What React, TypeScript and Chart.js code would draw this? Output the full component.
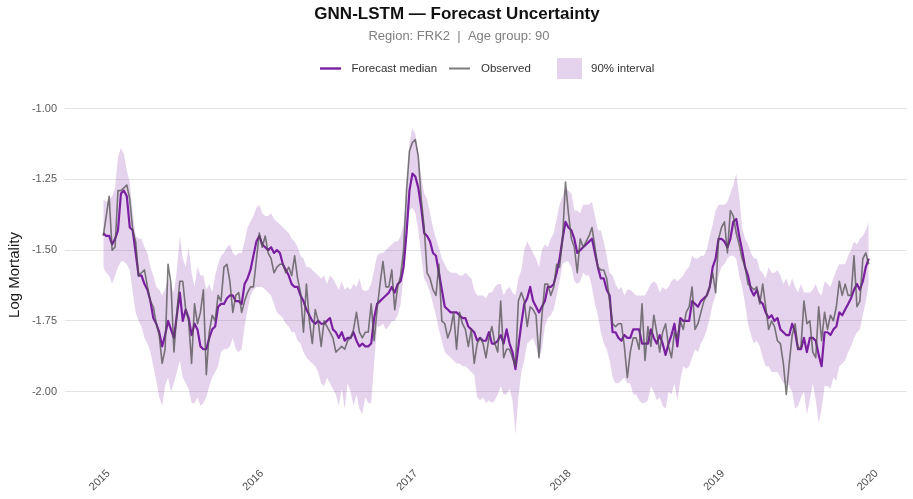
import { useEffect, useRef } from 'react';
import { Chart, registerables } from 'chart.js';

Chart.register(...registerables);

// ---- data -------------------------------------------------------------
const FIRST_WEEK = '2014-12-22';
const yearTicks = [2015, 2016, 2017, 2018, 2019, 2020];
const logTicks = [-2.0, -1.75, -1.5, -1.25, -1.0];

const observed = [
  -1.45, -1.38, -1.31, -1.50, -1.49, -1.29, -1.29, -1.28, -1.27, -1.32,
  -1.43, -1.47, -1.59, -1.58, -1.57, -1.63, -1.68, -1.70, -1.76, -1.80,
  -1.90, -1.85, -1.55, -1.62, -1.86, -1.72, -1.61, -1.61, -1.71, -1.75,
  -1.90, -1.69, -1.76, -1.72, -1.64, -1.94, -1.79, -1.73, -1.75, -1.66,
  -1.68, -1.56, -1.55, -1.61,
  -1.72, -1.66, -1.65, -1.72, -1.68, -1.65, -1.63, -1.63, -1.535, -1.44,
  -1.49, -1.45, -1.51, -1.53, -1.58, -1.56, -1.55, -1.55, -1.58, -1.56,
  -1.59, -1.52, -1.60, -1.65, -1.79, -1.62, -1.75, -1.83, -1.71, -1.75,
  -1.84, -1.75, -1.77, -1.79, -1.81, -1.86, -1.85, -1.84, -1.85, -1.82,
  -1.81, -1.78, -1.72, -1.79, -1.81,
  -1.79, -1.79, -1.69, -1.82, -1.71, -1.62, -1.54, -1.63, -1.63, -1.57,
  -1.71, -1.63, -1.59, -1.50, -1.29, -1.15, -1.12, -1.11, -1.17, -1.32,
  -1.42, -1.58, -1.60, -1.64, -1.66, -1.55, -1.75, -1.76, -1.81, -1.78,
  -1.72, -1.85, -1.72, -1.76, -1.78, -1.84, -1.78, -1.90, -1.83, -1.81,
  -1.83, -1.88, -1.81, -1.77, -1.83, -1.86,
  -1.68, -1.88, -1.85, -1.85, -1.88, -1.91, -1.68, -1.65, -1.68, -1.77,
  -1.70, -1.71, -1.73, -1.88, -1.73, -1.62, -1.62, -1.66, -1.63, -1.55,
  -1.56, -1.46, -1.26, -1.37, -1.46, -1.49, -1.58, -1.46, -1.49, -1.47,
  -1.45, -1.42, -1.49, -1.56, -1.57, -1.57, -1.60, -1.68, -1.76, -1.77,
  -1.76, -1.76, -1.84, -1.95, -1.86,
  -1.81, -1.81, -1.85, -1.69, -1.89, -1.77, -1.84, -1.73, -1.79, -1.86,
  -1.79, -1.76, -1.84, -1.88, -1.79, -1.81, -1.75, -1.78, -1.72, -1.70,
  -1.63, -1.78, -1.76, -1.72, -1.68, -1.66, -1.63, -1.58, -1.65, -1.46,
  -1.42, -1.40, -1.51, -1.36, -1.38, -1.44, -1.48, -1.53, -1.56, -1.62,
  -1.63, -1.64, -1.63, -1.69, -1.62, -1.70,
  -1.78, -1.75, -1.77, -1.82, -1.83, -1.90, -2.01, -1.90, -1.80, -1.76,
  -1.85, -1.84, -1.68, -1.76, -1.75, -1.86, -1.88, -1.70, -1.82, -1.72,
  -1.78, -1.73, -1.75, -1.70, -1.61, -1.66, -1.62, -1.66, -1.66, -1.52,
  -1.70, -1.68, -1.53, -1.51, -1.55,
];

const median = [
  -1.44, -1.45, -1.45, -1.48, -1.46, -1.43, -1.30, -1.29, -1.31, -1.42,
  -1.43, -1.51, -1.59, -1.59, -1.62, -1.64, -1.68, -1.74, -1.76, -1.79,
  -1.84, -1.80, -1.75, -1.78, -1.81, -1.73, -1.65, -1.75, -1.71, -1.74,
  -1.80, -1.76, -1.78, -1.84, -1.85, -1.85, -1.81, -1.78, -1.77, -1.70,
  -1.69, -1.69, -1.67, -1.66,
  -1.66, -1.68, -1.68, -1.69, -1.62, -1.60, -1.57, -1.52, -1.47, -1.45,
  -1.48, -1.49, -1.50, -1.49, -1.51, -1.50, -1.51, -1.55, -1.57, -1.59,
  -1.62, -1.63, -1.63, -1.66, -1.68, -1.71, -1.73, -1.75, -1.76, -1.75,
  -1.76, -1.76, -1.75, -1.74, -1.78, -1.79, -1.81, -1.79, -1.82, -1.81,
  -1.81, -1.79, -1.82, -1.84, -1.83,
  -1.84, -1.84, -1.83, -1.74, -1.69, -1.68, -1.67, -1.66, -1.65, -1.63,
  -1.65, -1.62, -1.61, -1.56, -1.44, -1.29, -1.23, -1.24, -1.28, -1.35,
  -1.44, -1.45, -1.47, -1.51, -1.52, -1.58, -1.64, -1.70, -1.71, -1.72,
  -1.72, -1.72, -1.73, -1.74, -1.74, -1.77, -1.78, -1.79, -1.82, -1.81,
  -1.82, -1.82, -1.79, -1.83, -1.83, -1.82,
  -1.80, -1.83, -1.78, -1.83, -1.86, -1.92, -1.84, -1.76, -1.69, -1.67,
  -1.63, -1.68, -1.70, -1.72, -1.70, -1.68, -1.63, -1.63, -1.62, -1.58,
  -1.53, -1.46, -1.40, -1.42, -1.43, -1.46, -1.51, -1.50, -1.49, -1.48,
  -1.47, -1.46, -1.51, -1.56, -1.60, -1.60, -1.64, -1.66, -1.79, -1.79,
  -1.81, -1.82, -1.80, -1.81, -1.81,
  -1.78, -1.78, -1.78, -1.83, -1.83, -1.83, -1.78, -1.81, -1.83, -1.80,
  -1.83, -1.87, -1.83, -1.80, -1.76, -1.84, -1.74, -1.75, -1.75, -1.75,
  -1.68, -1.69, -1.70, -1.68, -1.67, -1.66, -1.63, -1.56, -1.53, -1.46,
  -1.46, -1.47, -1.49, -1.46, -1.40, -1.39, -1.45, -1.50, -1.56, -1.59,
  -1.64, -1.66, -1.64, -1.68, -1.69, -1.72,
  -1.74, -1.73, -1.75, -1.74, -1.78, -1.79, -1.80, -1.80, -1.76, -1.79,
  -1.85, -1.85, -1.81, -1.86, -1.81, -1.81, -1.82, -1.87, -1.91, -1.79,
  -1.79, -1.80, -1.78, -1.77, -1.72, -1.73, -1.71, -1.69, -1.67, -1.64,
  -1.62, -1.64, -1.61, -1.56, -1.53,
];

const upper90 = [
  -1.32, -1.33, -1.32, -1.31, -1.28, -1.17, -1.14, -1.16, -1.22, -1.26,
  -1.37, -1.45, -1.46, -1.46, -1.49, -1.51, -1.56, -1.59, -1.63, -1.64,
  -1.66, -1.64, -1.60, -1.63, -1.65, -1.57, -1.45, -1.53, -1.56, -1.49,
  -1.58, -1.63, -1.56, -1.59, -1.59, -1.64, -1.62, -1.65, -1.59, -1.55,
  -1.52, -1.51, -1.49, -1.48,
  -1.51, -1.52, -1.51, -1.51, -1.47, -1.42, -1.40, -1.38, -1.35, -1.34,
  -1.37, -1.38, -1.38, -1.37, -1.39, -1.40, -1.41, -1.42, -1.43, -1.44,
  -1.46, -1.47, -1.49, -1.52, -1.53, -1.56, -1.56, -1.57, -1.58, -1.59,
  -1.60, -1.59, -1.62, -1.59, -1.60, -1.62, -1.64, -1.61, -1.64, -1.63,
  -1.64, -1.62, -1.63, -1.60, -1.64,
  -1.645, -1.64, -1.62, -1.57, -1.52, -1.51, -1.51, -1.50, -1.49, -1.48,
  -1.47, -1.47, -1.45, -1.41, -1.30, -1.12, -1.07, -1.09, -1.16, -1.24,
  -1.30, -1.32, -1.37, -1.42, -1.46, -1.49, -1.53, -1.55, -1.57, -1.58,
  -1.58, -1.58, -1.59, -1.59, -1.58, -1.59, -1.60, -1.64, -1.66, -1.66,
  -1.66, -1.67, -1.65, -1.65, -1.63, -1.62,
  -1.62, -1.66, -1.64, -1.63, -1.65, -1.66, -1.60, -1.57, -1.50, -1.47,
  -1.49, -1.51, -1.53, -1.56, -1.50, -1.48, -1.49, -1.46, -1.44, -1.39,
  -1.34, -1.31, -1.28, -1.29, -1.30, -1.36, -1.36, -1.37, -1.34, -1.34,
  -1.34, -1.33, -1.38, -1.43, -1.43, -1.47, -1.52, -1.58, -1.59, -1.62,
  -1.64, -1.63, -1.66, -1.64, -1.64,
  -1.65, -1.66, -1.66, -1.66, -1.66, -1.64, -1.62, -1.61, -1.62, -1.65,
  -1.63, -1.64, -1.63, -1.61, -1.60, -1.61, -1.60, -1.59, -1.57, -1.56,
  -1.52, -1.53, -1.53, -1.52, -1.52, -1.50, -1.45, -1.41, -1.36, -1.34,
  -1.34, -1.34, -1.33, -1.30, -1.27, -1.23, -1.31, -1.42, -1.46, -1.48,
  -1.51, -1.53, -1.53, -1.57, -1.58, -1.60,
  -1.56, -1.58, -1.58, -1.57, -1.59, -1.62, -1.60, -1.63, -1.60, -1.63,
  -1.65, -1.62, -1.65, -1.65, -1.65, -1.64, -1.62, -1.65, -1.66, -1.61,
  -1.62, -1.63, -1.60, -1.57, -1.55, -1.55, -1.55, -1.52, -1.50, -1.47,
  -1.48, -1.46, -1.45, -1.43, -1.40,
];

const lower90 = [
  -1.56, -1.58, -1.59, -1.62, -1.59, -1.56, -1.54, -1.54, -1.55, -1.57,
  -1.65, -1.72, -1.75, -1.77, -1.81, -1.83, -1.86, -1.91, -1.96, -2.02,
  -2.05, -1.98, -1.95, -2.00, -1.97, -1.93, -1.89, -1.95, -1.97, -1.99,
  -2.04, -2.04, -2.02, -2.05, -2.04, -2.02, -1.98, -1.95, -1.93, -1.91,
  -1.86, -1.85, -1.85, -1.84,
  -1.81, -1.85, -1.86, -1.85, -1.77, -1.71, -1.66, -1.64, -1.63, -1.63,
  -1.63, -1.64, -1.65, -1.66, -1.69, -1.72, -1.73, -1.74, -1.76, -1.77,
  -1.79, -1.79, -1.82, -1.83, -1.86, -1.88, -1.89, -1.90, -1.91, -1.93,
  -1.97, -1.98, -1.95, -1.97, -1.99, -2.01, -2.05, -1.99, -2.06, -1.97,
  -2.00, -2.05, -2.01, -2.06, -2.08,
  -2.02, -2.04, -2.04, -1.90, -1.77, -1.77, -1.76, -1.78, -1.77, -1.75,
  -1.75, -1.73, -1.69, -1.59, -1.48, -1.36, -1.35, -1.37, -1.43, -1.52,
  -1.60, -1.62, -1.65, -1.69, -1.73, -1.78, -1.82, -1.86, -1.87, -1.88,
  -1.89, -1.90, -1.90, -1.91, -1.91, -1.92, -1.93, -1.94, -2.02, -2.03,
  -2.02, -2.04, -2.03, -2.04, -2.03, -2.01,
  -1.98, -2.01, -2.01, -1.99, -2.03, -2.15, -2.02, -1.93, -1.89, -1.83,
  -1.82, -1.81, -1.84, -1.88, -1.85, -1.77, -1.74, -1.73, -1.71, -1.66,
  -1.61, -1.55, -1.54, -1.54, -1.56, -1.61, -1.62, -1.61, -1.58, -1.59,
  -1.59, -1.63, -1.69, -1.73, -1.79, -1.83, -1.85, -1.89, -1.95, -1.97,
  -1.97, -1.96, -1.95, -1.97, -1.97,
  -2.01, -2.01, -2.03, -2.04, -2.04, -2.03, -1.98, -2.00, -2.03, -2.02,
  -2.05, -2.06, -2.00, -2.01, -1.97, -2.03, -1.96, -1.91, -1.92, -1.91,
  -1.88, -1.85, -1.86, -1.83, -1.81, -1.78, -1.74, -1.69, -1.66, -1.59,
  -1.56, -1.55, -1.53, -1.52, -1.52, -1.53, -1.59, -1.63, -1.69, -1.76,
  -1.80, -1.83, -1.82, -1.84, -1.88, -1.91,
  -1.91, -1.93, -1.93, -1.93, -1.95, -1.97, -1.97, -1.98, -2.00, -2.06,
  -2.05, -2.02, -2.00, -2.08, -2.03, -1.97, -2.03, -2.11, -2.06, -1.98,
  -1.98, -1.99, -1.95, -1.96, -1.91, -1.90, -1.89, -1.86, -1.84, -1.81,
  -1.79, -1.78, -1.73, -1.68, -1.62,
];

// ---- text & styling ---------------------------------------------------
const TITLE = 'GNN-LSTM \u2014 Forecast Uncertainty';
const SUBTITLE = 'Region: FRK2  |  Age group: 90';
const Y_TITLE = 'Log Mortality';
const FONT = '"Liberation Sans", Arial, Helvetica, sans-serif';

const MEDIAN_COLOR = '#7B1FA2';
const OBSERVED_COLOR = 'rgba(80, 80, 80, 0.75)';
const BAND_COLOR = 'rgba(123, 31, 162, 0.2)';

const W = 913;
const H = 499;

const DAY = 86400000;
const startTime = Date.parse(FIRST_WEEK + 'T00:00:00Z');
const weekTimes = observed.map((_, i) => startTime + i * 7 * DAY);

const toPoints = (values: number[]) => values.map((y, i) => ({ x: weekTimes[i], y }));

// header: title, subtitle and legend drawn above the plot
const headerPlugin = {
  id: 'header',
  afterDraw(chart: Chart) {
    const ctx = chart.ctx;
    ctx.save();
    ctx.textAlign = 'center';
    ctx.textBaseline = 'alphabetic';
    ctx.fillStyle = '#111111';
    ctx.font = `bold 17px ${FONT}`;
    ctx.fillText(TITLE, 457, 19);
    ctx.font = `13px ${FONT}`;
    ctx.fillStyle = '#7f7f7f';
    ctx.fillText(SUBTITLE, 459, 39.5);

    const ly = 68.5;
    ctx.textAlign = 'left';
    ctx.textBaseline = 'middle';
    ctx.font = `11.5px ${FONT}`;

    ctx.lineCap = 'butt';
    ctx.strokeStyle = MEDIAN_COLOR;
    ctx.lineWidth = 2.4;
    ctx.beginPath();
    ctx.moveTo(320, ly);
    ctx.lineTo(341, ly);
    ctx.stroke();
    ctx.fillStyle = '#333333';
    ctx.fillText('Forecast median', 351.5, ly);

    ctx.strokeStyle = OBSERVED_COLOR;
    ctx.lineWidth = 2;
    ctx.beginPath();
    ctx.moveTo(449, ly);
    ctx.lineTo(470, ly);
    ctx.stroke();
    ctx.fillStyle = '#333333';
    ctx.fillText('Observed', 481, ly);

    ctx.fillStyle = BAND_COLOR;
    ctx.fillRect(557, 58, 25, 21);
    ctx.fillStyle = '#333333';
    ctx.fillText('90% interval', 591, ly);
    ctx.restore();
  },
};

export default function App() {
  const canvasRef = useRef<HTMLCanvasElement | null>(null);

  useEffect(() => {
    const canvas = canvasRef.current;
    if (!canvas) return;

    const first = weekTimes[0];
    const last = weekTimes[weekTimes.length - 1];
    const span = last - first;

    const chart = new Chart(canvas, {
      type: 'line',
      data: {
        datasets: [
          {
            label: 'Observed',
            data: toPoints(observed),
            borderColor: OBSERVED_COLOR,
            borderWidth: 1.6,
            pointRadius: 0,
            fill: false,
            borderJoinStyle: 'round',
          },
          {
            label: 'Forecast median',
            data: toPoints(median),
            borderColor: MEDIAN_COLOR,
            borderWidth: 2.2,
            pointRadius: 0,
            fill: false,
            borderJoinStyle: 'round',
          },
          {
            label: '90% interval',
            data: toPoints(upper90),
            borderWidth: 0,
            borderColor: 'rgba(0,0,0,0)',
            backgroundColor: BAND_COLOR,
            pointRadius: 0,
            fill: 3,
          },
          {
            label: 'lower',
            data: toPoints(lower90),
            borderWidth: 0,
            borderColor: 'rgba(0,0,0,0)',
            pointRadius: 0,
            fill: false,
          },
        ],
      },
      options: {
        responsive: false,
        animation: false,
        devicePixelRatio: 1,
        layout: { padding: { top: 95, right: 6, left: 0, bottom: 0 } },
        plugins: {
          legend: { display: false },
          title: { display: false },
          tooltip: { enabled: false },
        },
        scales: {
          x: {
            type: 'linear',
            min: first - 0.05 * span,
            max: last + 0.05 * span,
            grid: { display: false },
            border: { display: false },
            afterBuildTicks: (scale: any) => {
              scale.ticks = yearTicks.map((y) => ({ value: Date.UTC(y, 0, 1) }));
            },
            afterFit: (scale: any) => {
              scale.height = 44;
            },
            ticks: {
              autoSkip: false,
              minRotation: 45,
              maxRotation: 45,
              padding: 4,
              labelOffset: 1,
              color: '#4d4d4d',
              font: { family: FONT, size: 11 },
              callback: (v: any) => String(new Date(Number(v)).getUTCFullYear()),
            },
          },
          y: {
            type: 'linear',
            min: -2.2235,
            max: -0.9523,
            grid: { color: '#e3e3e3', lineWidth: 1.1, drawTicks: false },
            border: { display: false },
            afterBuildTicks: (scale: any) => {
              scale.ticks = logTicks.map((v) => ({ value: v }));
            },
            afterFit: (scale: any) => {
              scale.width = 65;
            },
            ticks: {
              padding: 8,
              color: '#5a5a5a',
              font: { family: FONT, size: 11 },
              callback: (v: any) => Number(v).toFixed(2),
            },
            title: {
              display: true,
              text: Y_TITLE,
              color: '#1a1a1a',
              font: { family: FONT, size: 15 },
              padding: { top: 6, bottom: 0 },
            },
          },
        },
      },
      plugins: [headerPlugin],
    });

    return () => chart.destroy();
  }, []);

  return (
    <div style={{ position: 'absolute', left: 0, top: 0, width: W, height: H, background: '#ffffff' }}>
      <canvas ref={canvasRef} width={W} height={H} style={{ width: W, height: H, display: 'block' }} />
    </div>
  );
}
